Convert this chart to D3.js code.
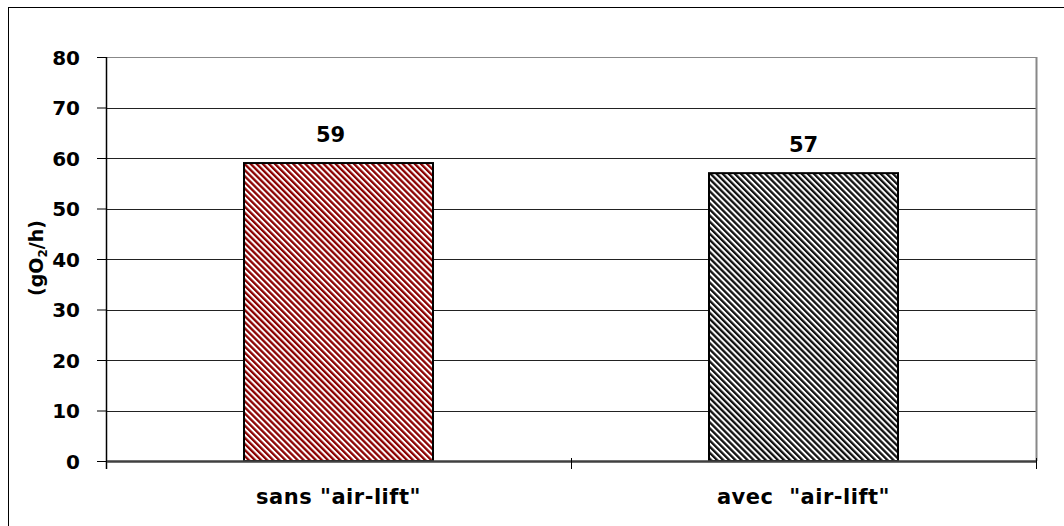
<!DOCTYPE html>
<html><head><meta charset="utf-8">
<script src="https://cdn.jsdelivr.net/npm/d3@7"></script>
<style>body{margin:0;background:#fff}svg{display:block}text{font-family:"DejaVu Sans",sans-serif;font-weight:bold}</style>
</head><body><svg id="c" width="1064" height="526"></svg>
<script>
const categories = ['sans "air-lift"', 'avec  "air-lift"'];
const values = [59, 57];
const yTicks = [0, 10, 20, 30, 40, 50, 60, 70, 80];

const svg = d3.select("#c");
const m = {l:106, r:1036, t:57, b:461};

svg.append("rect").attr("x",8.5).attr("y",7.5).attr("width",1070).attr("height",530)
  .attr("fill","none").attr("stroke","#000").attr("stroke-width",1);

const defs = svg.append("defs");
function pat(id, dark){
  const p = defs.append("pattern").attr("id",id).attr("patternUnits","userSpaceOnUse")
    .attr("width",4.3).attr("height",10).attr("patternTransform","rotate(-45)");
  p.append("rect").attr("width",4.3).attr("height",10).attr("fill","#fff");
  p.append("rect").attr("width",2.3).attr("height",10).attr("fill",dark);
}
pat("pRed","#8b0000");
pat("pBlk","#111");
const fills = ["url(#pRed)","url(#pBlk)"];

const x = d3.scaleBand().domain(categories).range([m.l, m.r]).paddingInner(0).paddingOuter(0);
const y = d3.scaleLinear().domain([0,80]).range([m.b, m.t]);

// gridlines
svg.append("g").selectAll("line").data(yTicks.filter(d=>d>0)).join("line")
  .attr("x1",m.l).attr("x2",m.r).attr("y1",d=>Math.round(y(d))+0.5).attr("y2",d=>Math.round(y(d))+0.5)
  .attr("stroke",d=>d===80?"#888":"#222").attr("stroke-width",1);
svg.append("line").attr("x1",m.r+0.5).attr("x2",m.r+0.5).attr("y1",m.t).attr("y2",m.b)
  .attr("stroke","#888").attr("stroke-width",2);

// bars
const bw = 189;
svg.append("g").selectAll("rect").data(values).join("rect")
  .attr("x",(d,i)=>x(categories[i])+x.bandwidth()/2-bw/2)
  .attr("y",d=>y(d)).attr("width",bw).attr("height",d=>y(0)-y(d))
  .attr("fill",(d,i)=>fills[i]).attr("stroke","#000").attr("stroke-width",2);

// value labels
svg.append("g").selectAll("text").data(values).join("text")
  .attr("x",(d,i)=>x(categories[i])+x.bandwidth()/2-8*(1-i))
  .attr("y",d=>y(d)-21).attr("text-anchor","middle").attr("font-size",21)
  .text(d=>d);

// y axis
const ya = svg.append("g").attr("transform",`translate(${m.l},0)`)
  .call(d3.axisLeft(y).tickValues(yTicks).tickSize(9).tickPadding(17).tickFormat(d3.format("d")));
ya.select(".domain").attr("stroke","#000").attr("stroke-width",1.5).attr("d",`M0.5,${m.t}V${m.b+8}`);
ya.selectAll(".tick line").attr("stroke","#000");
ya.selectAll("text").attr("font-size",20).attr("font-family","DejaVu Sans, sans-serif").attr("font-weight","bold").attr("fill","#000").attr("dy","0.36em");

// x axis
svg.append("line").attr("x1",m.l).attr("x2",m.r).attr("y1",m.b+0.5).attr("y2",m.b+0.5)
  .attr("stroke","#404040").attr("stroke-width",2.5);
const xt = [m.l, m.l + x.bandwidth(), m.r];
svg.append("g").selectAll("line").data(xt).join("line")
  .attr("x1",d=>d+0.5).attr("x2",d=>d+0.5).attr("y1",m.b-3).attr("y2",m.b+8)
  .attr("stroke","#000").attr("stroke-width",1);
svg.append("g").selectAll("text").data(categories).join("text")
  .attr("x",d=>x(d)+x.bandwidth()/2).attr("y",504)
  .attr("text-anchor","middle").attr("font-size",21).attr("letter-spacing",0.5)
  .attr("xml:space","preserve").style("white-space","pre")
  .text(d=>d);

// y title
const t = svg.append("text").attr("transform","translate(43,258) rotate(-90)")
  .attr("text-anchor","middle").attr("font-size",19);
t.append("tspan").text("(gO");
t.append("tspan").attr("font-size",12).attr("dy",4).text("2");
t.append("tspan").attr("dy",-4).text("/h)");
</script></body></html>
